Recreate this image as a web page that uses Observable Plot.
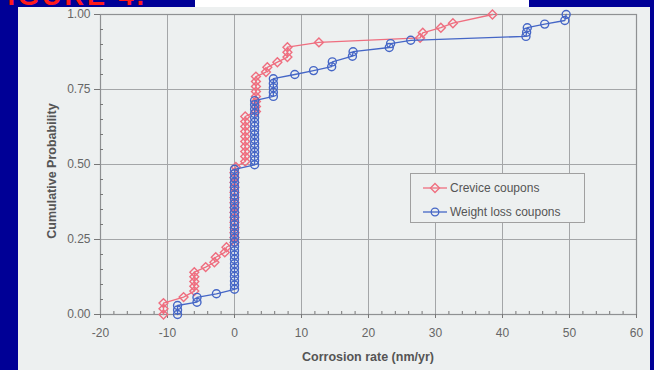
<!DOCTYPE html>
<html>
<head>
<meta charset="utf-8">
<script src="https://cdn.jsdelivr.net/npm/d3@7"></script>
<script src="https://cdn.jsdelivr.net/npm/@observablehq/plot@0.6"></script>
<style>
  html, body { margin: 0; padding: 0; }
  body { width: 654px; height: 370px; overflow: hidden; background: #000096; position: relative; font-family: "Liberation Sans", Arial, sans-serif; }
  #paper { position: absolute; left: 18px; top: 7px; width: 632px; height: 363px; background: #edf0f0; }
  #strip { position: absolute; left: 195px; top: 0; width: 334px; height: 7px; background: #ffffff; }
  #redtxt { position: absolute; left: 0; top: 0; width: 195px; height: 6px; overflow: hidden; }
  #redtxt span { position: absolute; left: -12px; top: -13px; font: bold 27px "Liberation Sans", Arial, sans-serif; line-height: 0.7; color: #ff1a1a; letter-spacing: 3px; white-space: nowrap; }
  #chart { position: absolute; left: 0; top: 0; }
  #xtitle { position: absolute; left: 82px; width: 536px; top: 343px; text-align: center; font: bold 12.5px "Liberation Sans", Arial, sans-serif; color: #555; }
  #ytitle { position: absolute; left: 34px; top: 157px; width: 200px; margin-left: -100px; text-align: center; transform: rotate(-90deg); transform-origin: 100px 7px; font: bold 12.5px "Liberation Sans", Arial, sans-serif; color: #555; line-height: 14px; }
  #legend { position: absolute; left: 392px; top: 166px; width: 173px; height: 48px; border: 1px solid #a0a0a0; background: #edf0f0; }
  .row { position: absolute; left: 12px; height: 16px; font: 12px "Liberation Sans", Arial, sans-serif; color: #555; line-height: 16px; white-space: nowrap; }
  .row svg { vertical-align: top; margin-right: 2px; }
</style>
</head>
<body>
<div id="strip"></div>
<div id="redtxt"><span>FIGURE 4.</span></div>
<div id="paper">
  <div id="chart"></div>
  <div id="xtitle">Corrosion rate (nm/yr)</div>
  <div id="ytitle">Cumulative Probability</div>
  <div id="legend"></div>
</div>
<script>
// ---- data ----
const seriesNames = ["Crevice coupons", "Weight loss coupons"];
const seriesColors = ["#ef6e7f", "#4566c6"];

const creviceRate = [
  -10.6, -10.6, -10.6, -7.6, -6.0, -6.0, -6.0, -6.0, -6.0, -4.3, -3.0, -2.8, -1.45, -1.2,
  0, 0, 0, 0, 0, 0, 0, 0, 0, 0, 0, 0, 0, 0, 0, 0.2,
  1.6, 1.6, 1.6, 1.6, 1.6, 1.6, 1.6, 1.6, 1.6, 1.6,
  3.2, 3.2, 3.2, 3.2, 3.2, 3.2, 3.2, 3.2,
  4.7, 4.9, 6.4, 7.9, 7.9, 7.9, 12.6, 27.7, 28.1, 30.8, 32.6, 38.5
];
const creviceProb = [
  0.000, 0.019, 0.038, 0.058, 0.078, 0.094, 0.110, 0.126, 0.141, 0.158, 0.174, 0.191, 0.207, 0.224,
  0.240, 0.257, 0.273, 0.290, 0.307, 0.323, 0.340, 0.357, 0.373, 0.390, 0.407, 0.423, 0.440, 0.457, 0.473, 0.492,
  0.510, 0.527, 0.543, 0.560, 0.577, 0.593, 0.610, 0.627, 0.643, 0.660,
  0.677, 0.693, 0.710, 0.727, 0.743, 0.760, 0.777, 0.793,
  0.808, 0.824, 0.841, 0.858, 0.874, 0.891, 0.907, 0.922, 0.939, 0.956, 0.971, 1.000
];

const weightLossRate = [
  -8.5, -8.5, -8.5, -5.6, -5.6, -2.7,
  0, 0, 0, 0, 0, 0, 0, 0, 0, 0, 0, 0, 0, 0, 0, 0, 0, 0, 0, 0, 0, 0, 0, 0, 0, 0, 0, 0, 0,
  3.0, 3.0, 3.0, 3.0, 3.0, 3.0, 3.0, 3.0, 3.0, 3.0, 3.0, 3.0, 3.0, 3.0, 3.0, 3.0,
  5.8, 5.8, 5.8, 5.8, 5.8,
  9.0, 11.8, 14.5, 14.6, 17.6, 17.7, 23.1, 23.3, 26.3, 43.5, 43.6, 43.7, 46.3, 49.3, 49.5
];
const weightLossProb = [
  0.000, 0.015, 0.030, 0.041, 0.057, 0.069,
  0.084, 0.098, 0.112, 0.127, 0.141, 0.155, 0.169, 0.184, 0.198, 0.212, 0.227, 0.241, 0.255, 0.269, 0.284,
  0.298, 0.312, 0.327, 0.341, 0.355, 0.369, 0.384, 0.398, 0.412, 0.427, 0.441, 0.455, 0.469, 0.484,
  0.499, 0.513, 0.527, 0.541, 0.556, 0.570, 0.584, 0.599, 0.613, 0.627, 0.641, 0.656, 0.670, 0.684, 0.699, 0.713,
  0.727, 0.741, 0.756, 0.770, 0.786,
  0.800, 0.813, 0.826, 0.842, 0.861, 0.876, 0.890, 0.903, 0.914, 0.927, 0.941, 0.956, 0.968, 0.980, 1.000
];

const xTicks = [-20, -10, 0, 10, 20, 30, 40, 50, 60];
const yTicks = [0, 0.25, 0.5, 0.75, 1];
const xMinor = [-18, -16, -14, -12, -8, -6, -4, -2, 2, 4, 6, 8, 12, 14, 16, 18, 22, 24, 26, 28, 32, 34, 36, 38, 42, 44, 46, 48, 52, 54, 56, 58];
const yMinor = [0.05, 0.1, 0.15, 0.2, 0.3, 0.35, 0.4, 0.45, 0.55, 0.6, 0.65, 0.7, 0.8, 0.85, 0.9, 0.95];

const crevice = creviceRate.map((x, i) => ({x, y: creviceProb[i]}));
const weightLoss = weightLossRate.map((x, i) => ({x, y: weightLossProb[i]}));

const plot = Plot.plot({
  width: 632,
  height: 363,
  marginLeft: 82,
  marginRight: 14,
  marginTop: 7,
  marginBottom: 56,
  style: {background: "transparent", color: "#666", fontFamily: "'Liberation Sans', Arial, sans-serif", fontSize: "12px"},
  x: {domain: [-20, 60]},
  y: {domain: [0, 1]},
  marks: [
    Plot.gridX(xTicks, {stroke: "#a4a6a8", strokeOpacity: 1, strokeWidth: 1}),
    Plot.gridY(yTicks, {stroke: "#a4a6a8", strokeOpacity: 1, strokeWidth: 1}),
    Plot.frame({stroke: "#8f9193", strokeWidth: 1.2}),
    Plot.axisX(xTicks, {anchor: "bottom", tickSize: 4, tickPadding: 10, tickFormat: d => String(d), stroke: "#777", fill: "#666", label: null}),
    Plot.axisY(yTicks, {anchor: "left", tickSize: 6, tickPadding: 4, tickFormat: d => d.toFixed(2), stroke: "#777", fill: "#666", label: null}),
    Plot.axisX(xMinor, {anchor: "bottom", tickSize: 3, dy: -3, tickFormat: () => "", stroke: "#777", label: null}),
    Plot.axisY(yMinor, {anchor: "left", tickSize: 3, dx: 3, tickFormat: () => "", stroke: "#777", label: null}),
    Plot.line(crevice, {x: "x", y: "y", stroke: seriesColors[0], strokeWidth: 1.3}),
    Plot.dot(crevice, {x: "x", y: "y", symbol: "diamond2", r: 4, stroke: seriesColors[0], strokeWidth: 1.4, fill: "none"}),
    Plot.line(weightLoss, {x: "x", y: "y", stroke: seriesColors[1], strokeWidth: 1.3}),
    Plot.dot(weightLoss, {x: "x", y: "y", symbol: "circle", r: 4, stroke: seriesColors[1], strokeWidth: 1.4, fill: "none"})
  ]
});
document.getElementById("chart").appendChild(plot);

// legend
const legend = document.getElementById("legend");
seriesNames.forEach((name, i) => {
  const row = document.createElement("div");
  row.className = "row";
  row.style.top = (i === 0 ? 6 : 30) + "px";
  const sym = i === 0
    ? `<path d="M12,3.5 L16.5,8 L12,12.5 L7.5,8 Z" fill="none" stroke="${seriesColors[i]}" stroke-width="1.3"/>`
    : `<circle cx="12" cy="8" r="3.8" fill="none" stroke="${seriesColors[i]}" stroke-width="1.3"/>`;
  row.innerHTML = `<svg width="25" height="16"><line x1="0" x2="24" y1="8" y2="8" stroke="${seriesColors[i]}" stroke-width="1.3"/>${sym}</svg>${name}`;
  legend.appendChild(row);
});
</script>
</body>
</html>
